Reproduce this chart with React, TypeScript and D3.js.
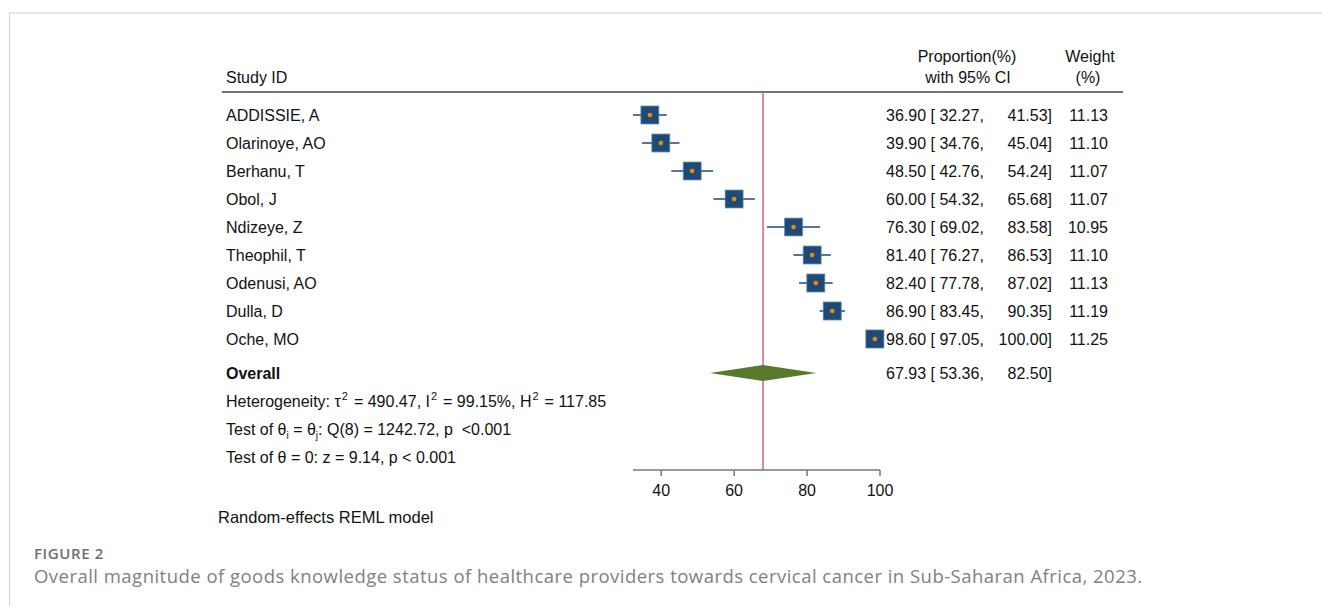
import React from "react";
import * as d3 from "d3";

const studies = ["ADDISSIE, A", "Olarinoye, AO", "Berhanu, T", "Obol, J", "Ndizeye, Z", "Theophil, T", "Odenusi, AO", "Dulla, D", "Oche, MO"];
const estimates = [36.9, 39.9, 48.5, 60.0, 76.3, 81.4, 82.4, 86.9, 98.6];
const lowers = [32.27, 34.76, 42.76, 54.32, 69.02, 76.27, 77.78, 83.45, 97.05];
const uppers = [41.53, 45.04, 54.24, 65.68, 83.58, 86.53, 87.02, 90.35, 100.0];
const weights = [11.13, 11.1, 11.07, 11.07, 10.95, 11.1, 11.13, 11.19, 11.25];
const overallEst = 67.93;
const overallLo = 53.36;
const overallHi = 82.5;
const axisTicks = [40, 60, 80, 100];

const FONT = "'Liberation Sans', Arial, Helvetica, sans-serif";

export default function App() {
  const x = d3.scaleLinear().domain([d3.min(lowers) as number, 100]).range([633, 880]);
  const rowY = d3.scaleLinear().domain([0, 1]).range([115, 143]);
  const sq = d3.scaleSqrt().domain([0, d3.max(weights) as number]).range([0, 18]);
  const overallY = 373;
  const axisY = 470;
  const fmt = d3.format(".2f");
  const blue = "#1d4a77";

  const diamond = d3.line()([
    [x(overallLo), overallY],
    [x(overallEst), overallY - 8],
    [x(overallHi), overallY],
    [x(overallEst), overallY + 8],
  ]) + "Z";

  return (
    <svg width={1322} height={606} style={{ position: "absolute", left: 0, top: 0, background: "#fff" }} fontFamily={FONT}>
      {/* frame */}
      <line x1={9} x2={1322} y1={13} y2={13} stroke="#dedede" strokeWidth={1.5} />
      <line x1={9.5} x2={9.5} y1={13} y2={606} stroke="#d0d0d0" strokeWidth={1} />

      {/* headers */}
      <text x={226} y={83} fontSize={16} fill="#111">Study ID</text>
      <text x={967} y={62} fontSize={16} fill="#111" textAnchor="middle">Proportion(%)</text>
      <text x={968} y={83} fontSize={16} fill="#111" textAnchor="middle">with 95% CI</text>
      <text x={1090} y={62} fontSize={16} fill="#111" textAnchor="middle">Weight</text>
      <text x={1088} y={83} fontSize={16} fill="#111" textAnchor="middle">(%)</text>
      <line x1={222} x2={1123} y1={92} y2={92} stroke="#444" strokeWidth={1.5} />

      {/* reference line */}
      <line x1={x(overallEst)} x2={x(overallEst)} y1={92} y2={axisY} stroke="#d4628a" strokeWidth={1.5} />

      {studies.map((s, i) => {
        const y = rowY(i);
        const size = sq(weights[i]);
        return (
          <g key={s}>
            <text x={226} y={y} dy="0.36em" fontSize={16} fill="#111">{s}</text>
            <line x1={x(lowers[i])} x2={x(uppers[i])} y1={y} y2={y} stroke={blue} strokeWidth={1.5} />
            <rect x={x(estimates[i]) - size / 2} y={y - size / 2} width={size} height={size} fill={blue} stroke="#5d80a6" strokeWidth={0.8} />
            <circle cx={x(estimates[i])} cy={y} r={2.3} fill="#f08a00" />
            <text x={886} y={y} dy="0.36em" fontSize={16} fill="#111" style={{ whiteSpace: "pre" }}>
              {`${fmt(estimates[i])} [ ${fmt(lowers[i])},`}
            </text>
            <text x={1052} y={y} dy="0.36em" fontSize={16} fill="#111" textAnchor="end">{`${fmt(uppers[i])}]`}</text>
            <text x={1108} y={y} dy="0.36em" fontSize={16} fill="#111" textAnchor="end">{fmt(weights[i])}</text>
          </g>
        );
      })}

      {/* overall */}
      <text x={226} y={overallY} dy="0.36em" fontSize={16} fontWeight="bold" fill="#111">Overall</text>
      <path d={diamond} fill="#58792c" />
      <text x={886} y={overallY} dy="0.36em" fontSize={16} fill="#111" style={{ whiteSpace: "pre" }}>
        {`${fmt(overallEst)} [ ${fmt(overallLo)},`}
      </text>
      <text x={1052} y={overallY} dy="0.36em" fontSize={16} fill="#111" textAnchor="end">{`${fmt(overallHi)}]`}</text>

      {/* stats */}
      <text x={226} y={401} dy="0.36em" fontSize={16} fill="#111" style={{ whiteSpace: "pre" }}>
        {"Heterogeneity: τ"}<tspan fontSize={11} dx={1} dy={-7}>2</tspan>
        <tspan dx={1.5} dy={7}>{" = 490.47, I"}</tspan><tspan fontSize={11} dx={1} dy={-7}>2</tspan>
        <tspan dx={1.5} dy={7}>{" = 99.15%, H"}</tspan><tspan fontSize={11} dx={1} dy={-7}>2</tspan>
        <tspan dx={1.5} dy={7}>{" = 117.85"}</tspan>
      </text>
      <text x={226} y={429} dy="0.36em" fontSize={16} fill="#111" style={{ whiteSpace: "pre" }}>
        {"Test of θ"}<tspan fontSize={10} dy={4}>i</tspan>
        <tspan dy={-4}>{" = θ"}</tspan><tspan fontSize={10} dy={4}>j</tspan>
        <tspan dy={-4}>{": Q(8) = 1242.72, p  <0.001"}</tspan>
      </text>
      <text x={226} y={457} dy="0.36em" fontSize={16} fill="#111">Test of θ = 0: z = 9.14, p &lt; 0.001</text>

      {/* axis */}
      <line x1={x.range()[0]} x2={x.range()[1]} y1={axisY} y2={axisY} stroke="#777" strokeWidth={1.5} />
      {axisTicks.map((t) => (
        <g key={t}>
          <line x1={x(t)} x2={x(t)} y1={axisY} y2={axisY + 6} stroke="#777" strokeWidth={1.5} />
          <text x={x(t)} y={490} dy="0.36em" fontSize={16} fill="#111" textAnchor="middle">{t}</text>
        </g>
      ))}

      <text x={218} y={517} dy="0.36em" fontSize={16.5} fill="#111">Random-effects REML model</text>

      {/* caption */}
      <text x={34} y={554} dy="0.36em" fontSize={15} fontWeight={600} letterSpacing={0.6} fill="#6e6e6e" fontFamily="'Open Sans', sans-serif">FIGURE 2</text>
      <text x={34} y={576} dy="0.36em" fontSize={18.5} letterSpacing={0.47} fill="#7f7f7f" fontFamily="'Open Sans', sans-serif">
        Overall magnitude of goods knowledge status of healthcare providers towards cervical cancer in Sub-Saharan Africa, 2023.
      </text>
    </svg>
  );
}
